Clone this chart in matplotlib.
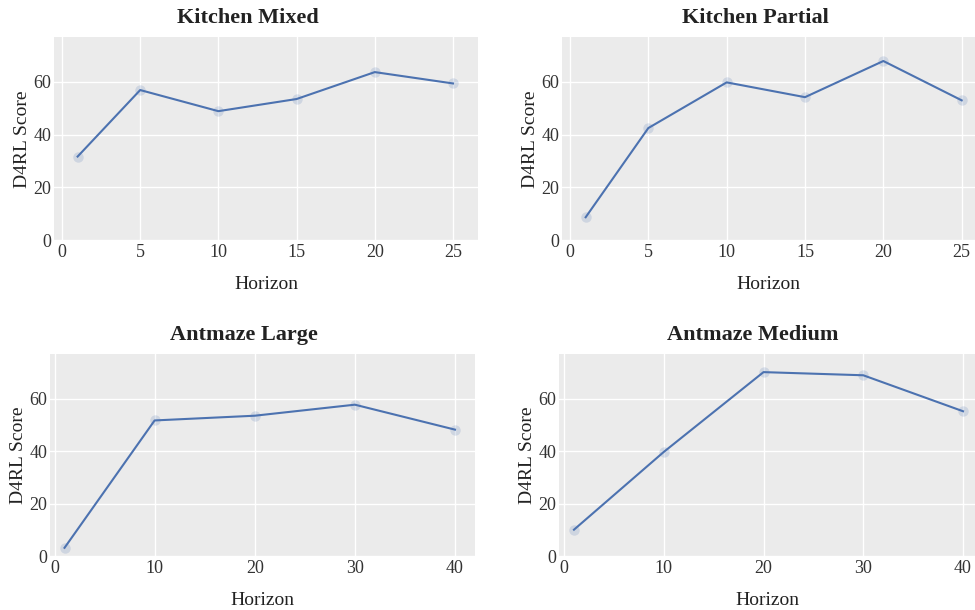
import matplotlib
matplotlib.use('Agg')
import matplotlib.pyplot as plt

# data
kitchen_horizon = [1, 5, 10, 15, 20, 25]
kitchen_mixed = [31.7, 56.9, 48.9, 53.5, 63.7, 59.4]
kitchen_partial = [8.7, 42.5, 59.8, 54.2, 67.9, 53.0]

antmaze_horizon = [1, 10, 20, 30, 40]
antmaze_large = [3.2, 51.7, 53.5, 57.7, 48.2]
antmaze_medium = [10.1, 39.7, 70.1, 68.9, 55.2]

kitchen_ticks = [0, 5, 10, 15, 20, 25]
antmaze_ticks = [0, 10, 20, 30, 40]

plt.rcParams['font.family'] = ['Liberation Serif', 'DejaVu Serif']

W, H = 975, 610
fig = plt.figure(figsize=(W / 100, H / 100), dpi=100)


def px_axes(l, t, r, b):
    return fig.add_axes([l / W, 1 - b / H, (r - l) / W, (b - t) / H])


panels = [
    # title, x, y, ticks, box(px), xlim, title x
    ("Kitchen Mixed", kitchen_horizon, kitchen_mixed, kitchen_ticks,
     (54, 37, 478, 241), (-0.51, 26.6), 0.457),
    ("Kitchen Partial", kitchen_horizon, kitchen_partial, kitchen_ticks,
     (562, 37, 975, 241), (-0.51, 25.85), 0.469),
    ("Antmaze Large", antmaze_horizon, antmaze_large, antmaze_ticks,
     (50, 354, 475, 557), (-0.45, 42.0), 0.457),
    ("Antmaze Medium", antmaze_horizon, antmaze_medium, antmaze_ticks,
     (559, 354, 975, 557), (-0.5, 41.2), 0.466),
]

for title, xs, ys, ticks, box, xlim, tx in panels:
    ax = px_axes(*box)
    ax.set_facecolor('#EBEBEB')
    for s in ax.spines.values():
        s.set_visible(False)
    ax.grid(True, color='white', linewidth=1.0)
    ax.set_axisbelow(True)
    ax.plot(xs, ys, 'o', color='#4C72B0', alpha=0.18, markersize=7.5,
            markeredgewidth=0, zorder=2)
    ax.plot(xs, ys, '-', color='#4C72B0', linewidth=1.5, zorder=3)
    ax.set_xlim(*xlim)
    ax.set_ylim(-0.3, 77)
    ax.set_xticks(ticks)
    ax.set_yticks([0, 20, 40, 60])
    ax.tick_params(length=0, labelsize=13, labelcolor='#333333', pad=2)
    ax.set_xlabel('Horizon', fontsize=14, color='#222222', labelpad=11)
    ax.set_ylabel('D4RL Score', fontsize=14, color='#222222', labelpad=2)
    ax.set_title(title, fontsize=16, fontweight='bold', color='#222222',
                 x=tx, pad=10)

fig.savefig('out.png', dpi=100)
